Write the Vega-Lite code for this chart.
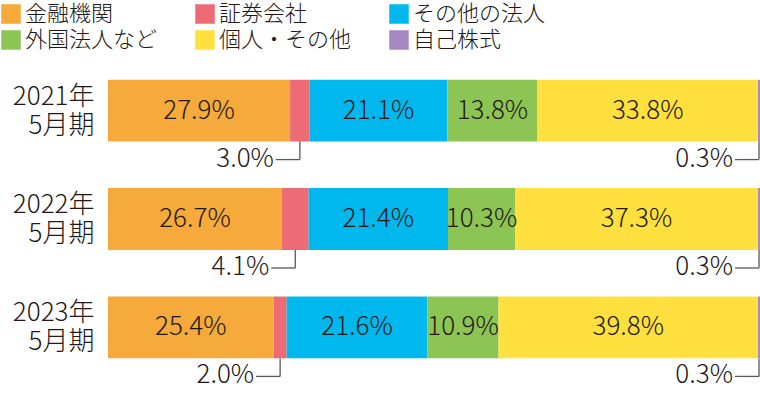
{
  "$schema": "https://vega.github.io/schema/vega-lite/v6.json",
  "width": 652,
  "height": 322,
  "autosize": {"type": "none"},
  "padding": {"left": 108, "top": 58, "right": 0, "bottom": 16},
  "background": "white",
  "config": {
    "view": {"stroke": null},
    "font": "Noto Sans CJK JP",
    "text": {"font": "Noto Sans CJK JP", "color": "#231815", "fontWeight": 300}
  },
  "data": {
    "values": [
      {"period": "2021年|5月期", "cat": "金融機関", "o": 1, "v": 27.9},
      {"period": "2021年|5月期", "cat": "証券会社", "o": 2, "v": 3.0},
      {"period": "2021年|5月期", "cat": "その他の法人", "o": 3, "v": 21.1},
      {"period": "2021年|5月期", "cat": "外国法人など", "o": 4, "v": 13.8},
      {"period": "2021年|5月期", "cat": "個人・その他", "o": 5, "v": 33.8},
      {"period": "2021年|5月期", "cat": "自己株式", "o": 6, "v": 0.3},
      {"period": "2022年|5月期", "cat": "金融機関", "o": 1, "v": 26.7},
      {"period": "2022年|5月期", "cat": "証券会社", "o": 2, "v": 4.1},
      {"period": "2022年|5月期", "cat": "その他の法人", "o": 3, "v": 21.4},
      {"period": "2022年|5月期", "cat": "外国法人など", "o": 4, "v": 10.3},
      {"period": "2022年|5月期", "cat": "個人・その他", "o": 5, "v": 37.3},
      {"period": "2022年|5月期", "cat": "自己株式", "o": 6, "v": 0.3},
      {"period": "2023年|5月期", "cat": "金融機関", "o": 1, "v": 25.4},
      {"period": "2023年|5月期", "cat": "証券会社", "o": 2, "v": 2.0},
      {"period": "2023年|5月期", "cat": "その他の法人", "o": 3, "v": 21.6},
      {"period": "2023年|5月期", "cat": "外国法人など", "o": 4, "v": 10.9},
      {"period": "2023年|5月期", "cat": "個人・その他", "o": 5, "v": 39.8},
      {"period": "2023年|5月期", "cat": "自己株式", "o": 6, "v": 0.3}
    ]
  },
  "transform": [
    {"stack": "v", "groupby": ["period"], "sort": [{"field": "o", "order": "ascending"}], "as": ["s0", "s1"], "offset": "normalize"},
    {"calculate": "(datum.s0 + datum.s1) / 2", "as": "mid"},
    {"calculate": "format(datum.v, '.1f') + '%'", "as": "lbl"}
  ],
  "encoding": {
    "y": {
      "field": "period",
      "type": "nominal",
      "sort": ["2021年|5月期", "2022年|5月期", "2023年|5月期"],
      "scale": {"paddingInner": 0.43, "paddingOuter": 0.2},
      "axis": {
        "title": null,
        "domain": false,
        "ticks": false,
        "labelPadding": 14,
        "labelFontSize": 26,
        "labelFont": "Noto Sans CJK JP",
        "labelFontWeight": 300,
        "labelColor": "#231815",
        "labelLineHeight": 29,
        "labelAlign": "right",
        "labelBaseline": "middle",
        "labelOffset": -14,
        "labelExpr": "split(datum.label, '|')"
      }
    }
  },
  "layer": [
    {
      "mark": {"type": "bar"},
      "encoding": {
        "x": {"field": "s0", "type": "quantitative", "scale": {"domain": [0, 1], "nice": false}, "axis": null},
        "x2": {"field": "s1"},
        "color": {
          "field": "cat",
          "type": "nominal",
          "scale": {
            "domain": ["金融機関", "証券会社", "その他の法人", "外国法人など", "個人・その他", "自己株式"],
            "range": ["#F5AA3B", "#EC6B75", "#00B8EE", "#8DC555", "#FFE03F", "#A888C2"]
          },
          "legend": {
            "title": null,
            "orient": "none",
            "legendX": -108,
            "legendY": -55,
            "columns": 3,
            "direction": "horizontal",
            "symbolType": "square",
            "symbolSize": 380,
            "symbolStrokeWidth": 0,
            "symbolOpacity": 1,
            "labelFontSize": 22,
            "labelFont": "Noto Sans CJK JP",
            "labelFontWeight": 300,
            "labelColor": "#231815",
            "labelOffset": 3,
            "labelLimit": 300,
            "columnPadding": 36,
            "rowPadding": 4,
            "padding": 0
          }
        }
      }
    },
    {
      "transform": [{"filter": "datum.o != 2 && datum.o != 6"}],
      "mark": {"type": "text", "fontSize": 26, "align": "center", "baseline": "middle"},
      "encoding": {
        "x": {"field": "mid", "type": "quantitative"},
        "text": {"field": "lbl"}
      }
    },
    {
      "transform": [{"filter": "datum.o == 2 || datum.o == 6"}],
      "mark": {"type": "tick", "orient": "vertical", "size": 18, "thickness": 1.3, "yOffset": 40, "color": "#595757", "opacity": 1},
      "encoding": {
        "x": {"field": "mid", "type": "quantitative"}
      }
    },
    {
      "transform": [{"filter": "datum.o == 2 || datum.o == 6"}],
      "mark": {"type": "tick", "orient": "horizontal", "size": 24, "thickness": 1.3, "yOffset": 49, "xOffset": -12, "color": "#595757", "opacity": 1},
      "encoding": {
        "x": {"field": "mid", "type": "quantitative"}
      }
    },
    {
      "transform": [{"filter": "datum.o == 2 || datum.o == 6"}],
      "mark": {"type": "text", "fontSize": 26, "align": "right", "baseline": "middle", "dx": -26, "dy": 48},
      "encoding": {
        "x": {"field": "mid", "type": "quantitative"},
        "text": {"field": "lbl"}
      }
    }
  ]
}
